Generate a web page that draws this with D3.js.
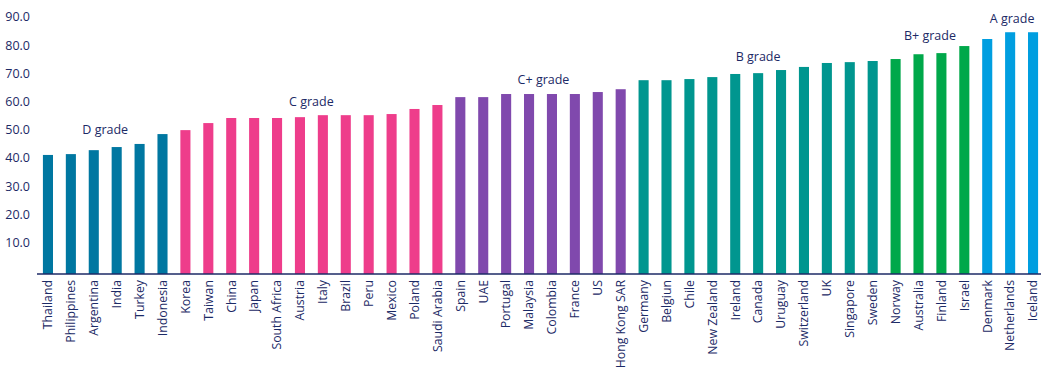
<!DOCTYPE html>
<html>
<head>
<meta charset="utf-8">
<script src="https://cdn.jsdelivr.net/npm/d3@7"></script>
<style>
body { margin: 0; background: #fff; }
svg text { font-family: "Open Sans", "Noto Sans", sans-serif; fill: #1c2a66; }
</style>
</head>
<body>
<div id="chart"></div>
<script>
// data
const countries = ["Thailand","Philippines","Argentina","India","Turkey","Indonesia",
  "Korea","Taiwan","China","Japan","South Africa","Austria","Italy","Brazil","Peru","Mexico","Poland","Saudi Arabia",
  "Spain","UAE","Portugal","Malaysia","Colombia","France","US","Hong Kong SAR",
  "Germany","Belgiun","Chile","New Zealand","Ireland","Canada","Uruguay","Switzerland","UK","Singapore","Sweden",
  "Norway","Australia","Finland","Israel",
  "Denmark","Netherlands","Iceland"]
const scores = [41.1,41.4,42.8,43.9,45.0,48.5,
  49.9,52.4,54.2,54.2,54.2,54.5,55.2,55.2,55.2,55.6,57.4,58.8,
  61.6,61.6,62.7,62.7,62.7,62.7,63.4,64.4,
  67.6,67.6,68.0,68.7,69.8,70.1,71.2,72.3,73.7,74.0,74.4,
  75.1,76.8,77.2,79.7,
  82.2,84.6,84.6]
const grades = ["D grade","C grade","C+ grade","B grade","B+ grade","A grade"]
const gradeCounts = [6,12,8,11,4,3]
const gradeColors = ["#0077a1","#ee3d8b","#8049ad","#00968f","#00a84a","#009ee0"]
const gradeLabelAt = [50,60,67.7,76,83.3,89.6]
const yTicks = [10,20,30,40,50,60,70,80,90]

// constants
const width = 1051, height = 380
const margins = {top: 17, left: 37, right: 10}
const baseY = 274

// grade index for each country
const gradeOf = []
gradeCounts.forEach((n,g) => { for (let i=0;i<n;i++) gradeOf.push(g) })

const xScale = d3.scaleBand()
  .domain(countries)
  .range([36.5, 1044.5])
  .paddingInner(0.56)
  .paddingOuter(0.28)

const yScale = d3.scaleLinear()
  .domain([-1.1, 90])
  .range([baseY, margins.top])

const svg = d3.select("#chart").append("svg")
  .attr("width", width)
  .attr("height", height)

// y tick labels (no axis line)
svg.append("g")
  .selectAll("text.ytick")
  .data(yTicks)
  .join("text")
  .attr("class","ytick")
  .attr("x", 30)
  .attr("y", d => yScale(d))
  .attr("dy","0.35em")
  .attr("text-anchor","end")
  .style("font-size","12.5px")
  .text(d => d3.format(".1f")(d))

// bars
svg.selectAll("rect.bar")
  .data(countries)
  .join("rect")
  .attr("class","bar")
  .attr("x", d => xScale(d))
  .attr("width", xScale.bandwidth())
  .attr("y", (d,i) => yScale(scores[i]))
  .attr("height", (d,i) => baseY - yScale(scores[i]))
  .attr("fill", (d,i) => gradeColors[gradeOf[i]])

// baseline
svg.append("line")
  .attr("x1", margins.left).attr("x2", width-margins.right)
  .attr("y1", baseY).attr("y2", baseY)
  .attr("stroke","#1c2a66").attr("stroke-width",1.5)

// country labels
svg.selectAll("text.country")
  .data(countries)
  .join("text")
  .attr("class","country")
  .attr("transform", d => `translate(${xScale(d)+xScale.bandwidth()/2},${baseY+6}) rotate(-90)`)
  .attr("dy","0.35em")
  .attr("text-anchor","end")
  .style("font-size","12.3px")
  .text(d => d)

// grade labels, centred over each group
let start = 0
const gradePos = gradeCounts.map(n => {
  const first = countries[start], last = countries[start+n-1]
  start += n
  return (xScale(first) + xScale(last) + xScale.bandwidth())/2
})
svg.selectAll("text.grade")
  .data(grades)
  .join("text")
  .attr("class","grade")
  .attr("x", (d,i) => gradePos[i])
  .attr("y", (d,i) => yScale(gradeLabelAt[i]))
  .attr("dx", (d,i) => i==2 ? 3 : (i==5 ? 2 : 0))
  .attr("dy","0.35em")
  .attr("text-anchor","middle")
  .style("font-size","12.5px")
  .text(d => d)
</script>
</body>
</html>
